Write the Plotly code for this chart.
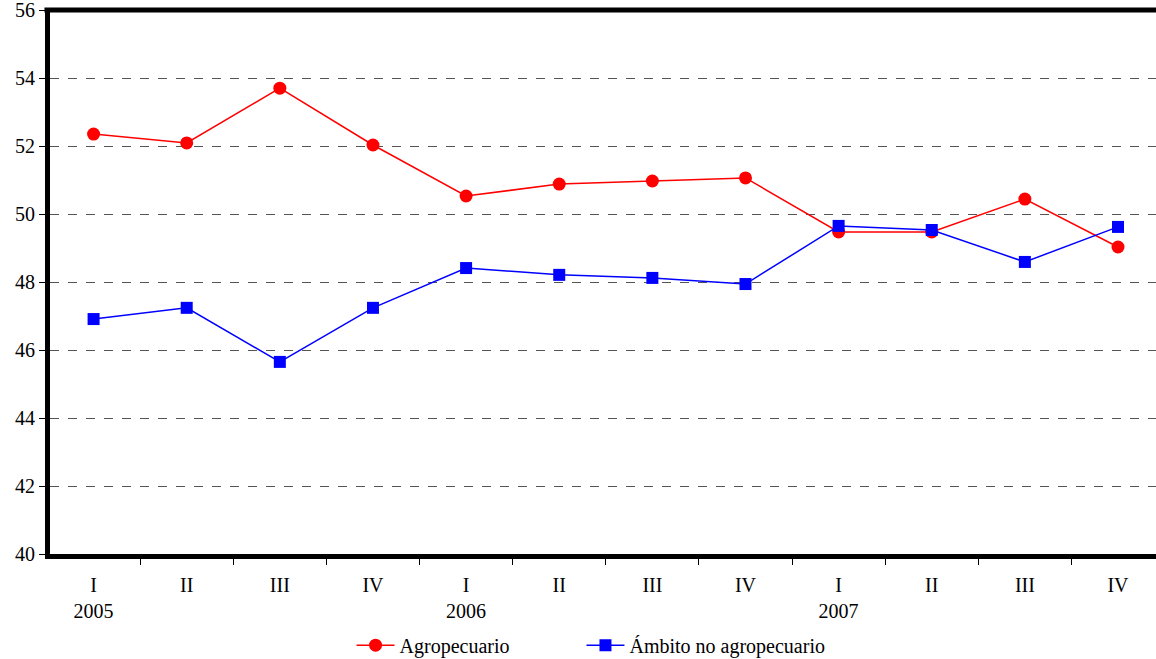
import plotly.graph_objects as go

quarters = ["I", "II", "III", "IV", "I", "II", "III", "IV", "I", "II", "III", "IV"]
years = ["2005", "", "", "", "2006", "", "", "", "2007", "", "", ""]
agropecuario = [52.35, 52.09, 53.70, 52.03, 50.53, 50.88, 50.97, 51.06, 49.47, 49.47, 50.44, 49.03]
no_agropecuario = [46.91, 47.24, 45.65, 47.24, 48.41, 48.21, 48.12, 47.94, 49.65, 49.53, 48.59, 49.62]

x = list(range(len(quarters)))
ticktext = [q + ("<br>" + y if y else "") for q, y in zip(quarters, years)]

fig = go.Figure()
fig.add_trace(go.Scatter(x=x, y=agropecuario, name="Agropecuario", mode="lines+markers",
                         line=dict(color="#ff0000", width=1.5),
                         marker=dict(symbol="circle", size=13, color="#ff0000"),
                         legend="legend"))
fig.add_trace(go.Scatter(x=x, y=no_agropecuario, name="Ámbito no agropecuario", mode="lines+markers",
                         line=dict(color="#0000ff", width=1.5),
                         marker=dict(symbol="square", size=12, color="#0000ff"),
                         legend="legend2"))

legend_common = dict(orientation="h", xref="container", xanchor="left",
                     yref="container", y=0.021, yanchor="middle", itemwidth=38,
                     font=dict(size=20), bgcolor="rgba(0,0,0,0)")

fig.update_layout(
    width=1156, height=659,
    margin=dict(l=50, r=0, t=10, b=105),
    plot_bgcolor="white", paper_bgcolor="white",
    font=dict(family="Liberation Serif", size=20, color="black"),
    showlegend=True,
    legend=dict(x=0.3041, **legend_common),
    legend2=dict(x=0.503, **legend_common),
    xaxis=dict(range=[-0.468, 11.408], tickvals=x, ticktext=ticktext, ticks="",
               showgrid=False, zeroline=False, ticklabelstandoff=9,
               showline=True, linecolor="black", linewidth=5,
               minor=dict(tick0=-0.5, dtick=1, ticks="outside", ticklen=6, tickcolor="black", tickwidth=1, showgrid=False),
               tickfont=dict(size=20)),
    yaxis=dict(range=[40, 56], dtick=2, tick0=40, ticks="outside", ticklen=6, tickcolor="black",
               showgrid=True, gridcolor="#555555", griddash="dash", gridwidth=1,
               zeroline=False, showline=True, linecolor="black", linewidth=5,
               ticklabeloverflow="allow", tickfont=dict(size=20)),
)
fig.add_shape(type="line", xref="paper", yref="paper", x0=-0.005, x1=1.0, y0=1, y1=1,
              line=dict(color="black", width=5))
fig.write_html("out.html", config={"displayModeBar": False},
               post_script="document.body.style.margin='0';document.body.style.overflow='hidden';")
